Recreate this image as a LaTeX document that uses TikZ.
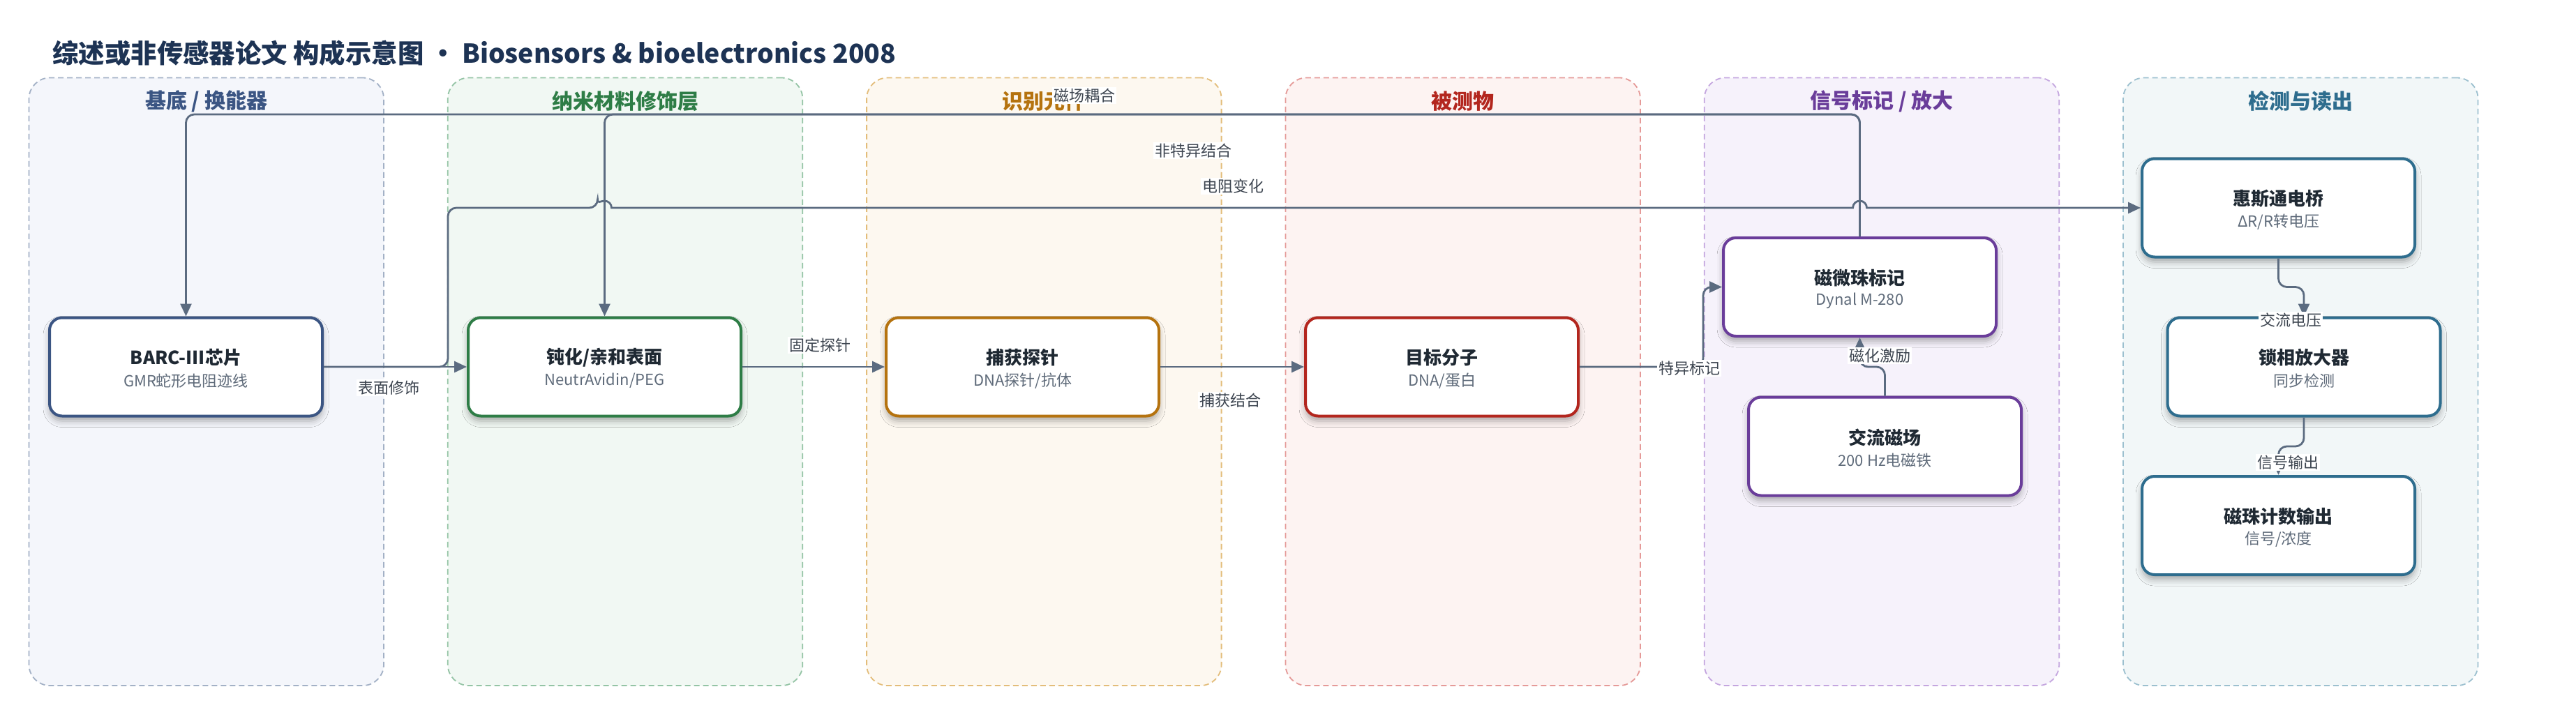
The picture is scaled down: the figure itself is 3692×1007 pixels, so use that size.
\documentclass[tikz,border=0pt]{standalone}
\usepackage{fontspec}
\setmainfont{Noto Sans CJK SC}
\usetikzlibrary{arrows.meta,shadows.blur}
\definecolor{edgec}{HTML}{5B6B80}
\definecolor{labc}{HTML}{3D4550}
\definecolor{ink}{HTML}{1F2933}
\definecolor{subc}{HTML}{5F6B7A}
\definecolor{titlec}{HTML}{1D3354}
\definecolor{laD}{HTML}{A3B1C6}\definecolor{laF}{HTML}{F4F6FB}\definecolor{laH}{HTML}{3B5583}
\definecolor{lbD}{HTML}{94C4A5}\definecolor{lbF}{HTML}{F1F8F3}\definecolor{lbH}{HTML}{2E7D46}
\definecolor{lcD}{HTML}{E3BD7A}\definecolor{lcF}{HTML}{FDF8F0}\definecolor{lcH}{HTML}{B5730F}
\definecolor{ldD}{HTML}{E59A98}\definecolor{ldF}{HTML}{FDF3F2}\definecolor{ldH}{HTML}{B3261E}
\definecolor{leD}{HTML}{C4A6DF}\definecolor{leF}{HTML}{F6F2FB}\definecolor{leH}{HTML}{6A3D9A}
\definecolor{lfD}{HTML}{9CC0CF}\definecolor{lfF}{HTML}{F2F7F8}\definecolor{lfH}{HTML}{2E6D8E}
\newcommand\mknode[6]{%
  \node[nbox=#4] (#1) at (#2,#3) {};
  \node[ttl] (#1-t) at ([yshift=6.5pt]#1.center) {#5};
  \node[subtxt] (#1-s) at ([yshift=-10pt]#1.center) {#6};}
\begin{document}
\begin{tikzpicture}[x=0.5pt,y=-0.5pt,
  lanebox/.style={rounded corners=15pt, dash pattern=on 4pt off 2.5pt, line width=0.9pt,
    minimum width=254.25pt, minimum height=435.75pt, inner sep=0pt},
  hdr/.style={font=\fontsize{15}{18}\selectfont\bfseries, inner sep=0pt},
  nbox/.style={draw=#1, fill=white, line width=2pt, rounded corners=9pt,
    minimum width=195.5pt, minimum height=70.5pt, inner sep=0pt,
    blur shadow={shadow xshift=0pt, shadow yshift=-3.5pt, shadow blur radius=4.5pt, shadow opacity=32}},
  ttl/.style={font=\fontsize{13}{15}\selectfont\bfseries, text=ink, inner sep=0pt},
  subtxt/.style={font=\fontsize{11}{13}\selectfont, text=subc, inner sep=0pt},
  conn/.style={draw=edgec, line width=1.4pt, rounded corners=6pt},
  arr/.style={conn, -{Triangle[length=9pt,width=8pt]}},
  elab/.style={font=\fontsize{11}{13}\selectfont, text=labc, fill=white, inner sep=1pt}
]
\useasboundingbox (0,0) rectangle (3692,1007);
\fill[white] (0,0) rectangle (3692,1007);

% title
\node[anchor=west, inner sep=0pt, text=titlec, font=\fontsize{18.7}{23}\selectfont\bfseries] (title) at (75,76)
  {综述或非传感器论文 构成示意图 • Biosensors \& bioelectronics 2008};

% lanes
\node[lanebox, draw=laD, fill=laF] (lane1) at (295.75,547.25) {};
\node[lanebox, draw=lbD, fill=lbF] (lane2) at (896.05,547.25) {};
\node[lanebox, draw=lcD, fill=lcF] (lane3) at (1496.35,547.25) {};
\node[lanebox, draw=ldD, fill=ldF] (lane4) at (2096.65,547.25) {};
\node[lanebox, draw=leD, fill=leF] (lane5) at (2696.95,547.25) {};
\node[lanebox, draw=lfD, fill=lfF] (lane6) at (3297.25,547.25) {};
\node[hdr, text=laH] (lane1-h) at (295.75,145) {基底 / 换能器};
\node[hdr, text=lbH] (lane2-h) at (896.05,145) {纳米材料修饰层};
\node[hdr, text=lcH] (lane3-h) at (1496.35,145) {识别元件};
\node[hdr, text=ldH] (lane4-h) at (2096.65,145) {被测物};
\node[hdr, text=leH] (lane5-h) at (2696.95,145) {信号标记 / 放大};
\node[hdr, text=lfH] (lane6-h) at (3297.25,145) {检测与读出};

% nodes
\mknode{barc}{266.5}{526}{laH}{BARC-III芯片}{GMR蛇形电阻迹线}
\mknode{pas}{866.5}{526}{lbH}{钝化/亲和表面}{NeutrAvidin/PEG}
\mknode{cap}{1465.5}{526}{lcH}{捕获探针}{DNA探针/抗体}
\mknode{tgt}{2066.5}{526}{ldH}{目标分子}{DNA/蛋白}
\mknode{mag}{2665.5}{411.5}{leH}{磁微珠标记}{Dynal M-280}
\mknode{acf}{2701.5}{640}{leH}{交流磁场}{200 Hz电磁铁}
\mknode{whe}{3265.5}{298}{lfH}{惠斯通电桥}{ΔR/R转电压}
\mknode{lock}{3302}{526}{lfH}{锁相放大器}{同步检测}
\mknode{cnt}{3265.5}{753.5}{lfH}{磁珠计数输出}{信号/浓度}

% helper coordinates
\coordinate (topR) at (2665.5,164);
\coordinate (topL) at (266.5,164);
\coordinate (topM) at (866.5,164);
\coordinate (resA) at (642,526);
\coordinate (resB) at (642,298);
\coordinate (hop1) at (856.5,298);
\coordinate (hop2) at (2655.5,298);
\coordinate (spA) at (2441,526);
\coordinate (spB) at (2441,411.5);
\coordinate (acA) at (2701.5,526);
\coordinate (acB) at (2665.5,526);
\coordinate (wA) at (3265.5,411.5);
\coordinate (wB) at (3302,411.5);
\coordinate (lA) at (3302,640);
\coordinate (lB) at (3265.5,640);

% connectors
\draw[arr] (mag.north) -- (topR) -- (topL) -- (barc.north);
\draw[arr] (mag.north) -- (topR) -- (topM) -- (pas.north);
\draw[arr] (barc.east) -- (pas.west);
\draw[arr, sharp corners] (barc.east) {[rounded corners=6pt] -- (resA) -- (resB) -- (hop1)}
   arc[start angle=180, end angle=0, radius=5pt] -- (hop2)
   arc[start angle=180, end angle=0, radius=5pt] -- (whe.west);
\draw[arr] (pas.east) -- (cap.west);
\draw[arr] (cap.east) -- (tgt.west);
\draw[arr] (tgt.east) -- (spA) -- (spB) -- (mag.west);
\draw[arr] (acf.north) -- (acA) -- (acB) -- (mag.south);
\draw[arr] (whe.south) -- (wA) -- (wB) -- (lock.north);
\draw[arr] (lock.south) -- (lA) -- (lB) -- (cnt.north);

% edge labels
\node[elab] (l-surf) at (557,556) {表面修饰};
\node[elab] (l-fix) at (1175,495) {固定探针};
\node[elab] (l-cap) at (1763,574) {捕获结合};
\node[elab] (l-spec) at (2421,528) {特异标记};
\node[elab] (l-mag) at (1554,137) {磁场耦合};
\node[elab] (l-ns) at (1710,216) {非特异结合};
\node[elab] (l-res) at (1767,267) {电阻变化};
\node[elab] (l-exc) at (2694,510) {磁化激励};
\node[elab] (l-ac) at (3283,459) {交流电压};
\node[elab] (l-out) at (3279,663) {信号输出};
\end{tikzpicture}
\end{document}
